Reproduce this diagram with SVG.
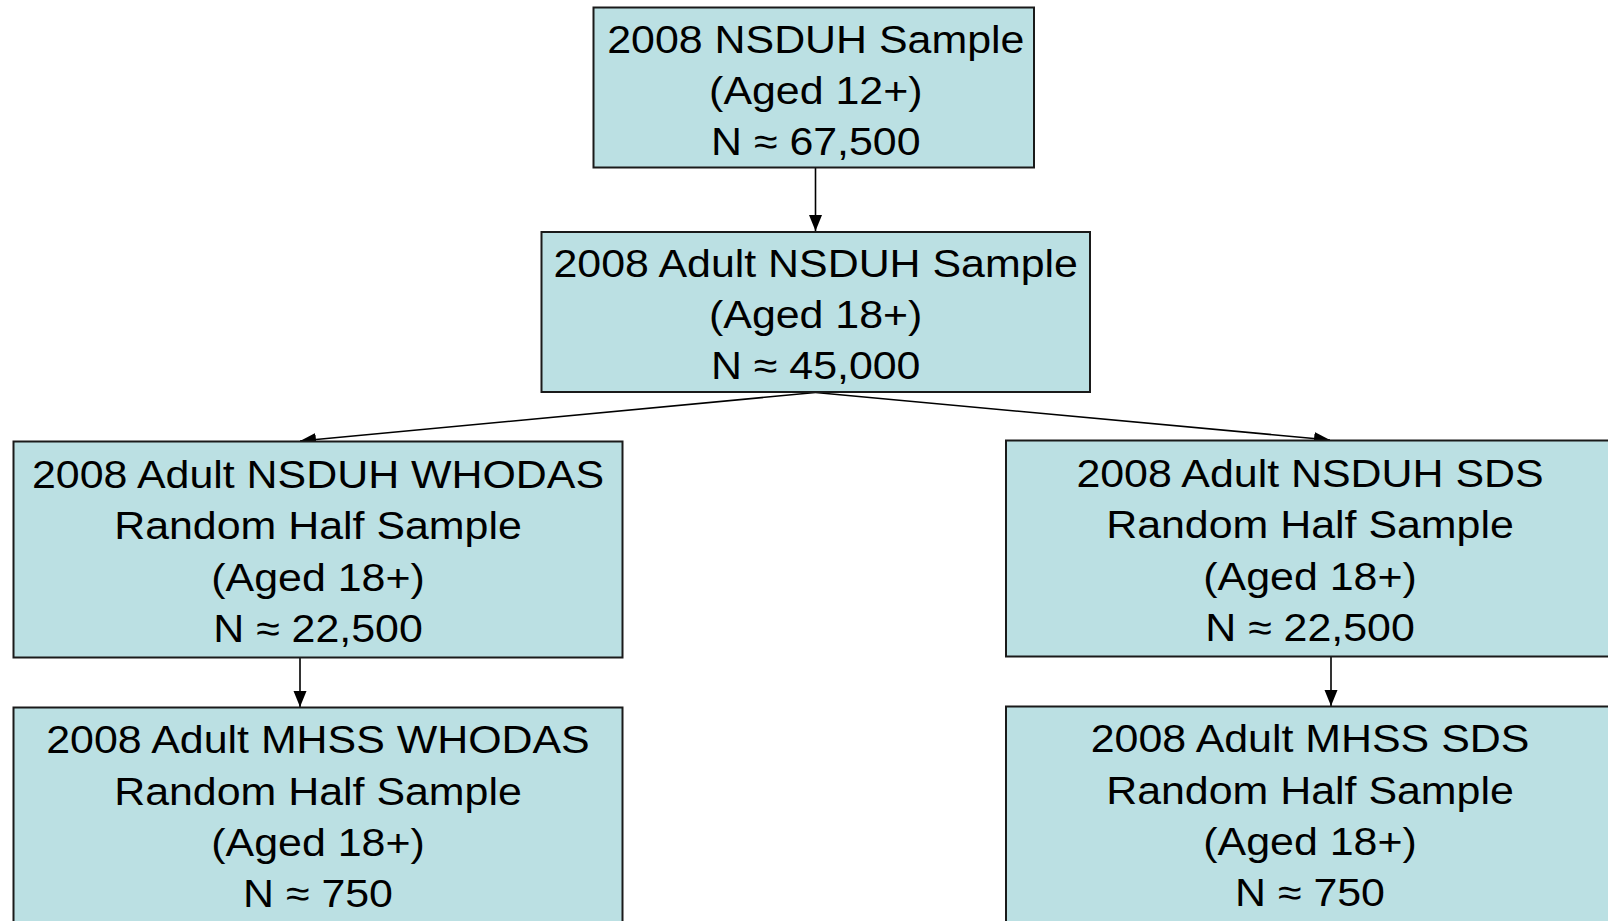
<svg xmlns="http://www.w3.org/2000/svg" width="1608" height="921" viewBox="0 0 1608 921">
<style>
  .box { fill: #BBE0E3; stroke: #1a1a1a; stroke-width: 2; }
  .lbl { font-family: "Liberation Sans", Arial, Helvetica, sans-serif; font-size: 39px; fill: #000; text-anchor: middle; }
  .conn { stroke: #000; stroke-width: 1.6; fill: none; marker-end: url(#arr); }
</style>
<defs>
  <marker id="arr" markerUnits="userSpaceOnUse" markerWidth="18" markerHeight="14" viewBox="0 0 18 14" refX="16" refY="7" orient="auto">
    <path d="M0,0.5 L16,7 L0,13.5 Z" fill="#000"/>
  </marker>
</defs>
<rect width="1608" height="921" fill="#ffffff"/>
<g id="connectors">
  <line class="conn" x1="815.5" y1="168" x2="815.5" y2="231"/>
  <line class="conn" x1="815.5" y1="392.5" x2="300" y2="441"/>
  <line class="conn" x1="815.5" y1="392.5" x2="1330" y2="440"/>
  <line class="conn" x1="300" y1="658" x2="300" y2="707"/>
  <line class="conn" x1="1331" y1="657" x2="1331" y2="706"/>
</g>
<g id="node-nsduh">
  <rect class="box" x="593.5" y="7.5" width="440.5" height="160"/>
  <g transform="translate(815.8,0) scale(1.1,1)">
    <text class="lbl" x="0" y="53.5">2008 NSDUH Sample</text>
    <text class="lbl" x="0" y="104.5">(Aged 12+)</text>
    <text class="lbl" x="0" y="155.5">N ≈ 67,500</text>
  </g>
</g>
<g id="node-adult">
  <rect class="box" x="541.5" y="232" width="548.5" height="160"/>
  <g transform="translate(815.7,0) scale(1.1,1)">
    <text class="lbl" x="0" y="277">2008 Adult NSDUH Sample</text>
    <text class="lbl" x="0" y="328">(Aged 18+)</text>
    <text class="lbl" x="0" y="379">N ≈ 45,000</text>
  </g>
</g>
<g id="node-whodas">
  <rect class="box" x="13.5" y="441.5" width="609" height="216"/>
  <g transform="translate(318,0) scale(1.1,1)">
    <text class="lbl" x="0" y="488">2008 Adult NSDUH WHODAS</text>
    <text class="lbl" x="0" y="539.5">Random Half Sample</text>
    <text class="lbl" x="0" y="591">(Aged 18+)</text>
    <text class="lbl" x="0" y="642">N ≈ 22,500</text>
  </g>
</g>
<g id="node-sds">
  <rect class="box" x="1006" y="440.5" width="609" height="216"/>
  <g transform="translate(1310,0) scale(1.1,1)">
    <text class="lbl" x="0" y="487">2008 Adult NSDUH SDS</text>
    <text class="lbl" x="0" y="538.5">Random Half Sample</text>
    <text class="lbl" x="0" y="590">(Aged 18+)</text>
    <text class="lbl" x="0" y="641">N ≈ 22,500</text>
  </g>
</g>
<g id="node-mhss-whodas">
  <rect class="box" x="13.5" y="707.5" width="609" height="216"/>
  <g transform="translate(318,0) scale(1.1,1)">
    <text class="lbl" x="0" y="753.5">2008 Adult MHSS WHODAS</text>
    <text class="lbl" x="0" y="805">Random Half Sample</text>
    <text class="lbl" x="0" y="856">(Aged 18+)</text>
    <text class="lbl" x="0" y="907.5">N ≈ 750</text>
  </g>
</g>
<g id="node-mhss-sds">
  <rect class="box" x="1006" y="706.5" width="609" height="216"/>
  <g transform="translate(1310,0) scale(1.1,1)">
    <text class="lbl" x="0" y="752.5">2008 Adult MHSS SDS</text>
    <text class="lbl" x="0" y="804">Random Half Sample</text>
    <text class="lbl" x="0" y="855">(Aged 18+)</text>
    <text class="lbl" x="0" y="906.5">N ≈ 750</text>
  </g>
</g>
</svg>
